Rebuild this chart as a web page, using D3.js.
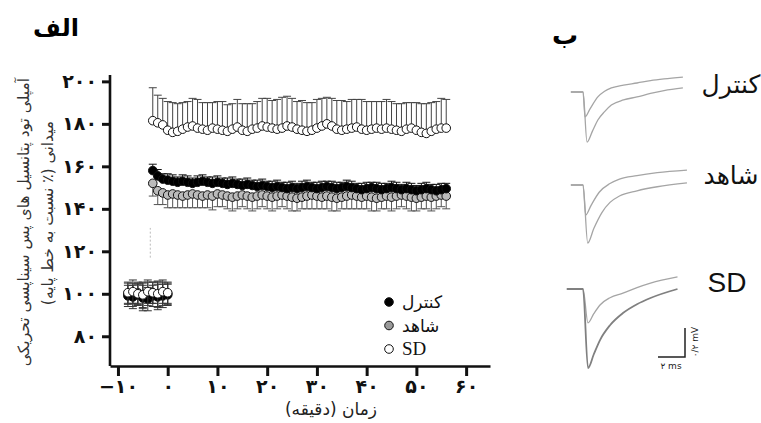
<!DOCTYPE html>
<html>
<head>
<meta charset="utf-8">
<script src="https://cdnjs.cloudflare.com/ajax/libs/d3/7.8.5/d3.min.js"></script>
<style>
  body { margin: 0; background: #fff; }
  svg { display: block; }
</style>
</head>
<body>
<svg width="761" height="423"></svg>
<script>
// ---- data (panel الف) ----
var baseTimes = [-8, -7, -6, -5, -4, -3, -2, -1, 0];
var baseCtrl  = [99, 98.5, 99.5, 98, 97.5, 99, 98.5, 99, 99.5];
var baseSham  = [100, 99.5, 100.5, 99, 100, 100.5, 99.5, 100, 100];
var baseSD    = [100.5, 101, 100, 99.5, 101, 100.5, 100, 101, 100.5];
var baseSem   = [5, 5.5, 5, 6, 5.5, 5, 6, 5.5, 5];

var postTimes = [-3, -2, -1, 0, 1, 2, 3, 4, 5, 6, 7, 8, 9, 10, 11, 12, 13, 14, 15, 16,
                 17, 18, 19, 20, 21, 22, 23, 24, 25, 26, 27, 28, 29, 30, 31, 32, 33, 34, 35, 36,
                 37, 38, 39, 40, 41, 42, 43, 44, 45, 46, 47, 48, 49, 50, 51, 52, 53, 54, 55, 56];
var sdMean = [181.5, 180.5, 179.5, 177, 176, 176.5, 177.5, 178.5, 179, 178, 177.5, 177, 178, 177.5, 177, 176.5, 177.5, 178.5, 177, 176.5,
              177.5, 178, 179, 178.5, 178, 177.5, 178, 179, 178.5, 177.5, 177, 176.5, 177, 178, 179, 180, 179, 177.5, 177, 177.5,
              178, 178.5, 177.5, 177, 177.5, 178, 177.5, 178, 177.5, 177, 176.5, 177.5, 178, 177, 176, 175.5, 176.5, 177.5, 178, 178];
var sdSem  = [15.5, 13, 12.5, 13.5, 14, 13, 12.5, 12, 13, 13.5, 12.5, 13, 12, 13, 13.5, 12.5, 12, 13, 12.5, 13,
              12, 12.5, 13, 13.5, 13, 14, 14.5, 14, 13.5, 13, 14, 13.5, 13, 13.5, 13, 12.5, 13, 13.5, 14, 13,
              13.5, 13, 14, 13.5, 13, 12.5, 13, 13.5, 13, 12.5, 13, 12.5, 12, 13, 13.5, 14, 13.5, 13, 14, 13.5];
var ctrlMean = [158, 155.5, 154, 153.5, 153, 152.5, 153, 152.5, 152, 152.5, 153, 152.5, 152, 152.5, 152, 151.5, 152, 151.5, 151, 151.5,
                151, 150.5, 151, 150.5, 150, 150.5, 150, 149.5, 150, 149.5, 150, 150.5, 150, 149.5, 150, 150.5, 150, 149.5, 150, 150.5,
                150, 149.5, 149, 149.5, 150, 149.5, 149, 149.5, 150, 149.5, 149, 149.5, 149, 148.5, 149, 149.5, 149, 148.5, 149, 149.5];
var ctrlSem  = [3, 3, 2.5, 3, 3, 2.5, 3, 3, 2.5, 3, 3, 2.5, 3, 3, 2.5, 3, 3, 2.5, 3, 3,
                2.5, 3, 3, 2.5, 3, 3, 2.5, 3, 3, 2.5, 3, 3, 2.5, 3, 3, 2.5, 3, 3, 2.5, 3,
                3, 2.5, 3, 3, 2.5, 3, 3, 2.5, 3, 3, 2.5, 3, 3, 2.5, 3, 3, 2.5, 3, 3, 2.5];
var shamMean = [152, 148.5, 147.5, 146.5, 147, 146.5, 146, 146.5, 147, 146.5, 146, 146.5, 146, 147, 146.5, 146, 145.5, 146, 146.5, 146,
                145.5, 146, 146.5, 146, 145.5, 146, 146.5, 146, 145.5, 145, 145.5, 146, 146.5, 146, 145.5, 146, 145.5, 145, 145.5, 146,
                146.5, 146, 145.5, 146, 145.5, 145, 145.5, 146, 145.5, 146, 146.5, 146, 145.5, 145, 145.5, 146, 145.5, 146, 146.5, 146];
var shamSem  = [6, 6.5, 5.5, 6, 6.5, 6, 5.5, 6, 6.5, 6, 5.5, 6, 6.5, 6, 5.5, 6, 6.5, 6, 5.5, 6,
                6.5, 6, 5.5, 6, 6.5, 6, 5.5, 6, 6.5, 6, 5.5, 6, 6.5, 6, 5.5, 6, 6.5, 6, 5.5, 6,
                6.5, 6, 5.5, 6, 6.5, 6, 5.5, 6, 6.5, 6, 5.5, 6, 6.5, 6, 5.5, 6, 6.5, 6, 5.5, 6];
var tetMark = {t: -3.5, from: 117, to: 131};

var yTicks = [80, 100, 120, 140, 160, 180, 200];
var xTicks = [-10, 0, 10, 20, 30, 40, 50, 60];
var legendNames = ["کنترل", "شاهد", "SD"];

// ---- data (panel ب), time in ms, amplitude in mV ----
var traceNames = ["کنترل", "شاهد", "SD"];
var tracesA = [
  [[-0.9,0],[0,0],[0.15,-0.172],[0.5,-0.12],[1.1,-0.034],[1.6,0.005],[2.1,0.028],[3,0.048],[4,0.062],[5,0.078],[6,0.09],[7.4,0.103]],
  [[-0.9,0],[0,0],[0.2,-0.207],[0.6,-0.14],[1.2,-0.05],[2,0.01],[2.7,0.041],[4,0.065],[5.5,0.085],[7.7,0.103]],
  [[-1.2,0],[0,0],[0.37,-0.234],[0.8,-0.17],[1.26,-0.11],[2,-0.06],[2.96,-0.028],[4,0.01],[5,0.041],[7,0.083]]
];
var tracesB = [
  [[-0.9,0],[0,0],[0.3,-0.345],[0.7,-0.27],[1.1,-0.193],[1.6,-0.135],[2.1,-0.09],[3,-0.055],[4,-0.034],[5,-0.01],[6,0.01],[7.4,0.028]],
  [[-0.9,0],[0,0],[0.35,-0.40],[0.8,-0.30],[1.4,-0.19],[2,-0.12],[2.7,-0.076],[4,-0.04],[5.5,-0.012],[7.7,0.014]],
  [[-1.2,0],[0,0],[0.37,-0.545],[0.8,-0.45],[1.26,-0.352],[2,-0.25],[2.96,-0.166],[4,-0.105],[5,-0.062],[7,0]]
];
var scaleBar = {ms: 2, mV: 0.2, msLabel: "۲ ms", mVLabel: "۰/۲ mV"};

var fa = function(n) {
  return String(n).replace(/\d/g, function(d) { return "۰۱۲۳۴۵۶۷۸۹"[d]; }).replace("-", "−");
};
var RLM = "\u200F";
var faFont = "DejaVu Sans";

var svg = d3.select("svg");

var x = d3.scaleLinear().domain([-11.6, 64.8]).range([110, 490]);
var y = d3.scaleLinear().domain([66, 203]).range([366, 75]);

// axes
var yAxis = d3.axisLeft(y).tickValues(yTicks).tickSize(8).tickSizeOuter(0).tickPadding(5).tickFormat(fa);
var xAxis = d3.axisBottom(x).tickValues(xTicks).tickSize(10).tickSizeOuter(0).tickPadding(4).tickFormat(fa);

var gy = svg.append("g").attr("transform", "translate(110,0)").call(yAxis);
var gx = svg.append("g").attr("transform", "translate(0,366)").call(xAxis);
[gy, gx].forEach(function(g) {
  g.select(".domain").attr("stroke", "#111").attr("stroke-width", 2.6);
  g.selectAll(".tick line").attr("stroke", "#111").attr("stroke-width", 3);
  g.selectAll(".tick text").attr("fill", "#111")
    .style("font-family", faFont).style("font-size", "19px").style("font-weight", "bold");
});
gy.select(".domain").attr("d", "M0," + y(66) + "V" + y(203));

// faint marker
svg.append("line")
  .attr("x1", x(tetMark.t)).attr("x2", x(tetMark.t))
  .attr("y1", y(tetMark.from)).attr("y2", y(tetMark.to))
  .attr("stroke", "#bbb").attr("stroke-width", 1).attr("stroke-dasharray", "2,2");

function drawSeries(times, means, sems, dir, fill, barColor) {
  var g = svg.append("g");
  times.forEach(function(t, i) {
    var cx = x(t), m = means[i];
    dir.forEach(function(s) {
      var ye = y(m + s * sems[i]);
      g.append("line").attr("x1", cx).attr("x2", cx).attr("y1", y(m)).attr("y2", ye)
        .attr("stroke", barColor).attr("stroke-width", 1);
      g.append("line").attr("x1", cx - 4).attr("x2", cx + 4).attr("y1", ye).attr("y2", ye)
        .attr("stroke", barColor).attr("stroke-width", 1);
    });
  });
  g.selectAll("circle").data(times).enter().append("circle")
    .attr("cx", function(d) { return x(d); })
    .attr("cy", function(d, i) { return y(means[i]); })
    .attr("r", 4.3)
    .attr("fill", fill).attr("stroke", "#111").attr("stroke-width", 1);
}

// baseline
drawSeries(baseTimes, baseSham, baseSem, [1, -1], "#aaa", "#444");
drawSeries(baseTimes, baseCtrl, baseSem, [1, -1], "#000", "#333");
drawSeries(baseTimes, baseSD, baseSem, [1, -1], "#fff", "#333");
// after
drawSeries(postTimes, shamMean, shamSem, [-1], "#bbb", "#555");
drawSeries(postTimes, ctrlMean, ctrlSem, [1], "#000", "#111");
drawSeries(postTimes, sdMean, sdSem, [1], "#fff", "#444");

// legend
var legFill = ["#000", "#999", "#fff"];
var leg = svg.append("g");
legendNames.forEach(function(name, i) {
  var ly = 302 + i * 23.5;
  leg.append("circle").attr("cx", 389).attr("cy", ly).attr("r", 4.3)
    .attr("fill", legFill[i]).attr("stroke", "#111").attr("stroke-width", 1);
  leg.append("text").attr("x", 402).attr("y", ly + 6)
    .attr("direction", i < 2 ? "rtl" : "ltr")
    .attr("text-anchor", i < 2 ? "end" : "start")
    .style("font-family", i < 2 ? faFont : "Liberation Serif")
    .style("font-size", i < 2 ? "17px" : "19px")
    .attr("fill", "#111")
    .text(name);
});

// titles
svg.append("text").attr("x", 331).attr("y", 415).attr("text-anchor", "middle")
  .style("font-family", faFont).style("font-size", "17px").attr("fill", "#222")
  .text(RLM + "زمان (دقیقه)" + RLM);

svg.append("text").attr("transform", "translate(29,222) rotate(-90)").attr("text-anchor", "middle")
  .style("font-family", faFont).style("font-size", "15.5px").attr("fill", "#333")
  .text(RLM + "آمپلی تود پتانسیل های پس سیناپسی تحریکی" + RLM);
svg.append("text").attr("transform", "translate(53,213) rotate(-90)").attr("text-anchor", "middle")
  .style("font-family", faFont).style("font-size", "15.5px").attr("fill", "#333")
  .text(RLM + "میدانی (٪ نسبت به خط پایه)" + RLM);

svg.append("text").attr("x", 56).attr("y", 36).attr("text-anchor", "middle")
  .style("font-family", faFont).style("font-size", "24px").style("font-weight", "bold")
  .text("الف");
svg.append("text").attr("x", 565).attr("y", 44).attr("text-anchor", "middle")
  .style("font-family", faFont).style("font-size", "26px").style("font-weight", "bold")
  .text("ب");

// panel ب traces
var rowBase = [92, 185, 289];
var tx = d3.scaleLinear().domain([0, 1]).range([583, 596.5]);   // 13.5 px per ms
var traceLabelY = [93, 184, 292];
rowBase.forEach(function(b, r) {
  var ty = d3.scaleLinear().domain([0, 1]).range([b, b - 145]); // 145 px per mV
  var line = d3.line().x(function(d) { return tx(d[0]); }).y(function(d) { return ty(d[1]); })
    .curve(d3.curveMonotoneX);
  svg.append("path").datum(tracesA[r]).attr("d", line)
    .attr("fill", "none").attr("stroke", "#a5a5a5").attr("stroke-width", 1.3);
  svg.append("path").datum(tracesB[r]).attr("d", line)
    .attr("fill", "none").attr("stroke", r === 2 ? "#808080" : "#a5a5a5").attr("stroke-width", r === 2 ? 1.8 : 1.3);
  svg.append("text")
    .attr("x", r === 2 ? 727 : 731).attr("y", traceLabelY[r])
    .attr("text-anchor", "middle")
    .style("font-family", r === 2 ? "Liberation Sans" : faFont)
    .style("font-size", r === 2 ? "28px" : "25px")
    .attr("fill", "#111")
    .text(traceNames[r]);
});

// scale bar
var sbx = 685, sby = 357;
svg.append("path")
  .attr("d", "M" + (sbx - (tx(scaleBar.ms) - tx(0))) + "," + sby + "H" + sbx + "V" + (sby - scaleBar.mV * 145))
  .attr("fill", "none").attr("stroke", "#222").attr("stroke-width", 1.5);
svg.append("text").attr("x", 671).attr("y", 369).attr("text-anchor", "middle")
  .style("font-family", faFont).style("font-size", "9px").attr("fill", "#222")
  .text(scaleBar.msLabel);
svg.append("text").attr("transform", "translate(698,342) rotate(-90)").attr("text-anchor", "middle")
  .style("font-family", faFont).style("font-size", "9px").attr("fill", "#222")
  .text(scaleBar.mVLabel);
</script>
</body>
</html>
